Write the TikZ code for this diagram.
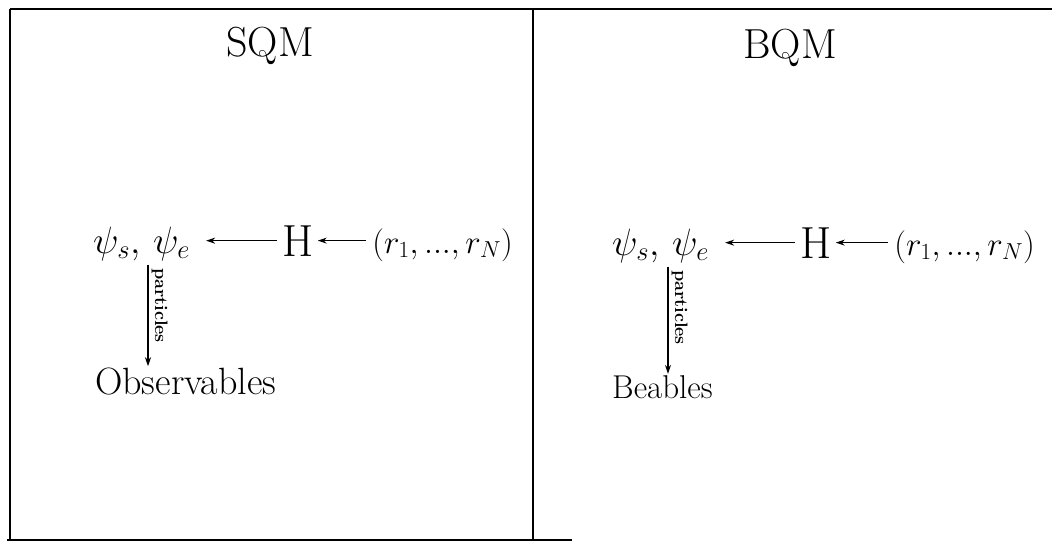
\documentclass[tikz,border=0pt]{standalone}
\usepackage{fix-cm}
\usepackage{fontspec}
\usetikzlibrary{arrows.meta}
\begin{document}
\begin{tikzpicture}[x=1pt,y=-1pt,
  psi/.style={font=\fontsize{38}{44}\selectfont, inner sep=0pt},
  rr/.style={font=\fontsize{33}{38}\selectfont, inner sep=0pt},
  ttl/.style={font=\fontsize{42}{48}\selectfont, inner sep=0pt},
  bigH/.style={font=\fontsize{45}{50}\selectfont, inner sep=0pt},
  lbl/.style={font=\fontsize{18}{20}\selectfont\bfseries, inner sep=3pt},
  arr/.style={-{Stealth[length=9pt,width=6pt]}, line width=1.1pt},
  frame/.style={line width=1.5pt}]
\useasboundingbox (0,0) rectangle (1056,542);
% frame
\draw[frame] (10,9) -- (1052,9);
\draw[frame] (10,9) -- (10,540);
\draw[frame] (533,9) -- (533,540);
\draw[frame] (7,540) -- (572,540);
% left panel
\node[ttl] (t1) at (270,46) {SQM};
\node[psi, anchor=base west] (p1) at (93,253) {$\psi_s,\,\psi_e$};
\node[bigH, anchor=base] (h1) at (298,256) {H};
\node[rr, anchor=base east] (r1) at (513,253) {$(r_1,...,r_N)$};
\node[font=\fontsize{38}{44}\selectfont, inner sep=0pt, anchor=base west] (o1) at (95,394) {Observables};
\draw[arr] ([xshift=-5pt]h1.west) -- ([xshift=16pt]h1.west -| p1.east);
\draw[arr] ([xshift=-6pt]h1.east -| r1.west) -- ([xshift=4pt]h1.east);
\draw[arr] ([yshift=-4pt]p1.south west -| 148,0) -- ([yshift=1pt]o1.north west -| 148,0)
  node[lbl, pos=0.0, anchor=south west, rotate=-90] (l1) {particles};
% right panel
\node[ttl] (t2) at (790,48) {BQM};
\node[psi, anchor=base west] (p2) at (612,255) {$\psi_s,\,\psi_e$};
\node[bigH, anchor=base] (h2) at (816,258) {H};
\node[rr, anchor=base east] (r2) at (1035,255) {$(r_1,...,r_N)$};
\node[font=\fontsize{33}{38}\selectfont, inner sep=0pt, anchor=base west] (o2) at (612,398) {Beables};
\draw[arr] ([xshift=-5pt]h2.west) -- ([xshift=16pt]h2.west -| p2.east);
\draw[arr] ([xshift=-6pt]h2.east -| r2.west) -- ([xshift=4pt]h2.east);
\draw[arr] ([yshift=-4pt]p2.south west -| 668,0) -- ([yshift=1pt]o2.north west -| 668,0)
  node[lbl, pos=0.0, anchor=south west, rotate=-90] (l2) {particles};
\end{tikzpicture}
\end{document}
